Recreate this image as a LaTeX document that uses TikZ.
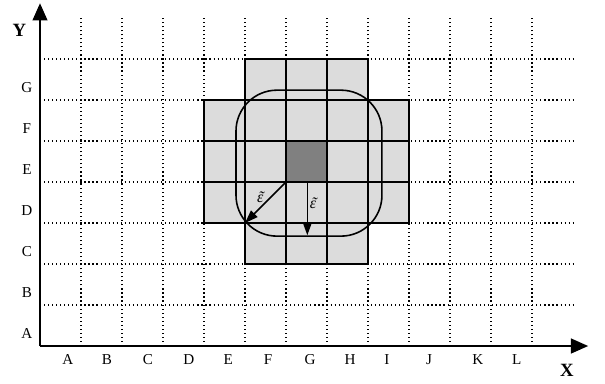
\documentclass[tikz,border=0pt]{standalone}
\usepackage{fontspec}
\setmainfont{Liberation Serif}
\usetikzlibrary{arrows.meta}
\definecolor{lightcell}{HTML}{DCDCDC}
\definecolor{darkcell}{HTML}{808080}
\newcommand{\tileps}{\makebox[0pt][l]{\kern0.1em\raisebox{0.05ex}{˜}}ε}
\begin{document}
\begin{tikzpicture}[x=1cm,y=1cm,
  gridline/.style={dotted, line width=0.8pt},
  cellbox/.style={fill=lightcell, draw=black, line width=1.3pt},
  axisline/.style={line width=1.4pt, -{Triangle[length=0.42cm,width=0.36cm]}},
  vecarrow/.style={line width=1.1pt, -{Triangle[length=0.32cm,width=0.22cm]}},
  lab/.style={font=\fontsize{10.5}{12}\selectfont, inner sep=0pt},
  eps/.style={font=\fontsize{11}{12}\selectfont\itshape, inner sep=0pt},
  axlab/.style={font=\fontsize{13}{15}\selectfont\bfseries, inner sep=0pt}]
\useasboundingbox (-0.9756,-0.9024) rectangle (13.780,8.439);
% dotted grid
\foreach \i in {1,...,12} \draw[gridline] (\i,0) -- (\i,8);
\foreach \j in {1,...,7} \draw[gridline] (0,\j) -- (13,\j);
% grey cells
\foreach \i in {5,6,7} \foreach \j in {2,...,6} \draw[cellbox] (\i,\j) rectangle ++(1,1);
\foreach \i in {4,8} \foreach \j in {3,4,5} \draw[cellbox] (\i,\j) rectangle ++(1,1);
\draw[fill=darkcell, draw=black, line width=1.3pt] (6,4) rectangle (7,5);
% rounded region
\draw[line width=1.1pt, rounded corners=1cm] (4.78,2.68) rectangle (8.34,6.24);
% vectors
\coordinate (c) at (6,4);
\coordinate (corner) at (5,3);
\coordinate (mid) at (6.52,4);
\coordinate (bot) at (6.52,2.7);
\draw[vecarrow] (c) -- (corner);
\draw[vecarrow] (mid) -- (bot);
\node[eps] (e1) at (5.37,3.63) {\tileps};
\node[eps] (e2) at (6.66,3.49) {\tileps};
% axes
\coordinate (o) at (0,0);
\coordinate (xend) at (13.37,0);
\coordinate (yend) at (0,8.36);
\draw[axisline] (o) -- (xend);
\draw[axisline] (o) -- (yend);
\node[axlab] (X) at (12.85,-0.6) {X};
\node[axlab] (Y) at (-0.5,7.71) {Y};
% row labels
\foreach \t [count=\k from 0] in {A,B,C,D,E,F,G}
  \node[lab] (r\t) at (-0.32,\k+0.31) {\t};
% column labels
\foreach \t/\xx in {A/0.68,B/1.63,C/2.63,D/3.63,E/4.59,F/5.56,G/6.59,H/7.56,I/8.46,J/9.49,K/10.68,L/11.63}
  \node[lab] (c\t) at (\xx,-0.34) {\t};
\end{tikzpicture}
\end{document}
